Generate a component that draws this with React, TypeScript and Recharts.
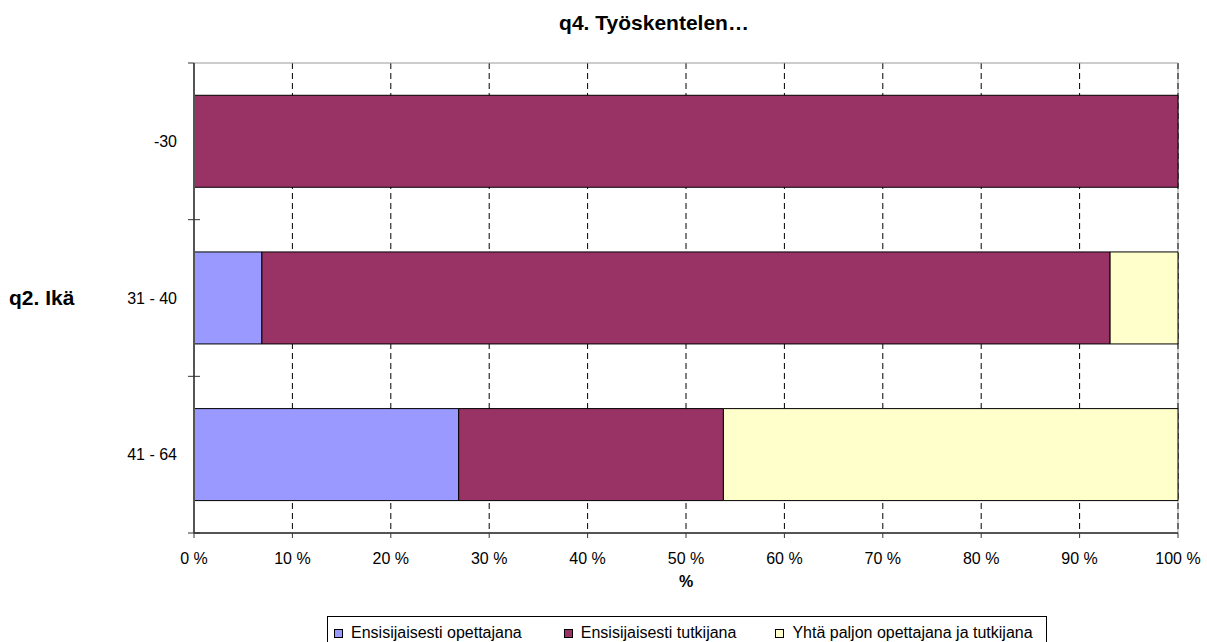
import React from "react";
import {
  BarChart,
  Bar,
  XAxis,
  YAxis,
  CartesianGrid,
  ReferenceArea,
  Label,
} from "recharts";

const categories = ["-30", "31 - 40", "41 - 64"];
const opettajana = [0, 6.9, 26.9];
const tutkijana = [100, 86.2, 26.9];
const molemmat = [0, 6.9, 46.2];
const xTicks = [0, 10, 20, 30, 40, 50, 60, 70, 80, 90, 100];

const seriesNames = [
  "Ensisijaisesti opettajana",
  "Ensisijaisesti tutkijana",
  "Yhtä paljon opettajana ja tutkijana",
];
const seriesKeys = ["a", "b", "c"];
const seriesColors = ["#9999FF", "#993366", "#FFFFCC"];
const legendGaps = [42, 39, 0];

const data = categories.map((c, i) => ({
  cat: c,
  a: opettajana[i],
  b: tutkijana[i],
  c: molemmat[i],
}));

const FONT = '"Liberation Sans", Arial, sans-serif';
const Y_TICK_MARGIN = 17;

function CategoryTick(props: any) {
  const { x, y, payload, index } = props;
  const axisX = x + Y_TICK_MARGIN;
  const half = payload && payload.offset ? payload.offset : 0;
  return (
    <g>
      <text
        x={x}
        y={y}
        dy="0.355em"
        textAnchor="end"
        fill="#000"
        fontSize={16}
        fontFamily={FONT}
      >
        {payload.value}
      </text>
      <line
        x1={axisX - 6}
        x2={axisX + 6}
        y1={y + half}
        y2={y + half}
        stroke="#333"
        strokeWidth={1}
      />
      {index === 0 ? (
        <line
          x1={axisX - 6}
          x2={axisX}
          y1={y - half}
          y2={y - half}
          stroke="#333"
          strokeWidth={1}
        />
      ) : null}
    </g>
  );
}

export default function App() {
  return (
    <div
      style={{
        position: "absolute",
        left: 0,
        top: 0,
        width: 1207,
        height: 642,
        background: "#fff",
        fontFamily: FONT,
        overflow: "hidden",
      }}
    >
      <div
        style={{
          position: "absolute",
          left: 454,
          width: 400,
          top: 11,
          textAlign: "center",
          fontWeight: "bold",
          fontSize: 21,
          lineHeight: "24px",
          color: "#000",
        }}
      >
        q4. Työskentelen…
      </div>
      <BarChart
        width={1207}
        height={642}
        data={data}
        layout="vertical"
        margin={{ top: 63, right: 29, bottom: 49, left: 0 }}
        barCategoryGap="20.6%"
      >
        <CartesianGrid
          horizontal={false}
          stroke="#000"
          strokeDasharray="6 4"
        />
        <ReferenceArea
          x1={0}
          x2={100}
          y1="-30"
          y2="41 - 64"
          fill="none"
          stroke="#999"
          strokeWidth={1}
          fillOpacity={0}
        />
        <XAxis
          type="number"
          domain={[0, 100]}
          ticks={xTicks}
          tickFormatter={(v: number) => `${v} %`}
          height={60}
          axisLine={{ stroke: "#555", strokeWidth: 2 }}
          tickLine={{ stroke: "#333" }}
          tickSize={5}
          tickMargin={15}
          tick={{ fill: "#000", fontSize: 16, fontFamily: FONT }}
        >
          <Label
            value="%"
            position="insideBottom"
            offset={6}
            style={{ fontWeight: "bold", fontSize: 16, fill: "#000", fontFamily: FONT }}
          />
        </XAxis>
        <YAxis
          type="category"
          dataKey="cat"
          width={194}
          axisLine={{ stroke: "#555", strokeWidth: 2 }}
          tickLine={false}
          tickSize={0}
          tickMargin={Y_TICK_MARGIN}
          tick={<CategoryTick />}
        >
          <Label
            value="q2. Ikä"
            position="insideLeft"
            offset={9}
            style={{
              fontWeight: "bold",
              fontSize: 21,
              fill: "#000",
              fontFamily: FONT,
              textAnchor: "start",
            }}
          />
        </YAxis>
        {seriesKeys.map((k, i) => (
          <Bar
            key={k}
            dataKey={k}
            name={seriesNames[i]}
            stackId="s"
            fill={seriesColors[i]}
            stroke="#000"
            strokeWidth={1}
            isAnimationActive={false}
          />
        ))}
      </BarChart>
      <div
        style={{
          position: "absolute",
          left: 327,
          top: 616,
          width: 712,
          height: 32,
          border: "1px solid #000",
          display: "flex",
          alignItems: "flex-start",
          paddingLeft: 6,
          paddingTop: 7,
          boxSizing: "content-box",
          fontSize: 16,
          lineHeight: "18px",
          color: "#000",
        }}
      >
        {seriesNames.map((n, i) => (
          <div
            key={n}
            style={{
              display: "flex",
              alignItems: "center",
              marginRight: legendGaps[i],
              whiteSpace: "nowrap",
            }}
          >
            <span
              style={{
                display: "inline-block",
                width: 7,
                height: 7,
                border: "1px solid #000",
                background: seriesColors[i],
                marginRight: 8,
              }}
            />
            <span>{n}</span>
          </div>
        ))}
      </div>
    </div>
  );
}
